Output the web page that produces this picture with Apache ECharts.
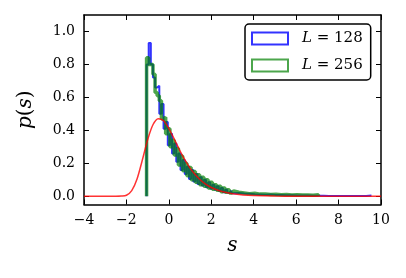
<!DOCTYPE html>
<html>
<head>
<meta charset="utf-8">
<script src="https://cdn.jsdelivr.net/npm/echarts@6/dist/echarts.min.js"></script>
<style>html,body{margin:0;padding:0;background:#fff}#c{width:406px;height:278px}</style>
</head>
<body>
<div id="c"></div>
<script>
// ---- data ----
const sizes = ['128', '256'];
const xTicks = [-4, -2, 0, 2, 4, 6, 8, 10];
const yTicks = [0.0, 0.2, 0.4, 0.6, 0.8, 1.0];
// histogram bins: fine bins from -1.05 (width 0.1), then tail bins (width 0.25)
const fineStart = -1.05;
const fineWidth = 0.1;
const tailWidth = 0.25;
const blueFine = [0.80,0.93,0.80,0.72,0.66,0.67,0.50,0.56,0.41,0.45,
                  0.31,0.38,0.26,0.32,0.21,0.26,0.16,0.22,0.135,0.18,
                  0.105,0.16,0.09,0.135,0.075,0.115,0.065,0.10,0.055,0.085,
                  0.045,0.07,0.04,0.06,0.032,0.05,0.025,0.04,0.022,0.033,0.018];
const blueTail = [0.02,0.017,0.015,0.012,0.011,0.009,0.010,0.008,0.007,0.006,
                  0.006,0.005,0.004,0.004,0.003,0.003,0.003,0.002,0.002,0.002,
                  0.002,0.001,0.002,0.001,0.001,0.004];
const greenFine = [0.84,0.80,0.80,0.74,0.63,0.61,0.58,0.47,0.48,0.38,
                   0.41,0.30,0.34,0.25,0.29,0.19,0.245,0.155,0.20,0.125,
                   0.175,0.10,0.15,0.085,0.13,0.07,0.115,0.06,0.10,0.05,
                   0.085,0.042,0.07,0.036,0.06,0.028,0.05,0.024,0.04,0.02,0.032];
const greenTail = [0.024,0.02,0.016,0.018,0.013,0.014,0.011,0.012,0.009,0.011,
                   0.008,0.009,0.007,0.008,0.006,0.009];
// red reference curve
const redX = [-4,-2.5,-2.25,-2.0,-1.75,-1.5,-1.25,-1.0,-0.75,-0.5,-0.25,0,0.25,0.5,0.75,1.0,1.25,1.5,1.75,2.0,2.5,3.0,3.5,4,5,6,7,10];
const redY = [0,0,0.001,0.006,0.034,0.105,0.220,0.343,0.434,0.471,0.458,0.411,0.348,0.282,0.222,0.171,0.130,0.097,0.072,0.053,0.0285,0.0152,0.008,0.0043,0.0012,0.0003,0.0001,0];

// ---- build step outlines ----
function stepPoints(fine, tail) {
  const edges = [], vals = [];
  for (let i = 0; i < fine.length; i++) { edges.push(fineStart + i * fineWidth); vals.push(fine[i]); }
  const tailStart = fineStart + fine.length * fineWidth;
  for (let i = 0; i < tail.length; i++) { edges.push(tailStart + i * tailWidth); vals.push(tail[i]); }
  edges.push(tailStart + tail.length * tailWidth);
  const pts = [[edges[0], 0]];
  for (let i = 0; i < vals.length; i++) {
    pts.push([edges[i], vals[i]]);
    pts.push([edges[i + 1], vals[i]]);
  }
  pts.push([edges[edges.length - 1], 0]);
  return pts;
}
const bluePts = stepPoints(blueFine, blueTail);
const greenPts = stepPoints(greenFine, greenTail);
const redPts = redX.map((x, i) => [x, redY[i]]);

const BLUE = 'rgba(0,0,255,0.8)';
const GREEN = 'rgba(0,128,0,0.7)';
const RED = 'rgba(255,0,0,0.8)';
const FONT = 'DejaVu Serif';

const names = sizes.map(s => 'L = ' + s);
const chart = echarts.init(document.getElementById('c'), null, {renderer: 'canvas'});
const axisCommon = {
  type: 'value', min: -4, max: 10,
  axisLine: {show: true, onZero: false, lineStyle: {color: '#000', width: 1.5}},
  axisTick: {show: true, inside: true, length: 5, lineStyle: {color: '#000', width: 1}, customValues: xTicks},
  splitLine: {show: false}
};
const yCommon = {
  type: 'value', min: -0.05, max: 1.1,
  axisLine: {show: true, onZero: false, lineStyle: {color: '#000', width: 1.5}},
  axisTick: {show: true, inside: true, length: 5, lineStyle: {color: '#000', width: 1}, customValues: yTicks},
  splitLine: {show: false}
};
chart.setOption({
  animation: false,
  backgroundColor: '#fff',
  grid: {left: 84, right: 25, top: 15, bottom: 73.5, containLabel: false, outerBoundsMode: 'none'},
  xAxis: [
    Object.assign({}, axisCommon, {
      position: 'bottom',
      axisLabel: {show: true, customValues: xTicks, margin: 9, fontFamily: FONT, fontSize: 14, color: '#000',
        formatter: v => (v < 0 ? '\u2212' + Math.abs(v) : String(v))},
      name: 's', nameLocation: 'middle', nameGap: 31,
      nameTextStyle: {fontFamily: FONT, fontStyle: 'italic', fontSize: 20, color: '#000'}
    }),
    Object.assign({}, axisCommon, {position: 'top', axisLabel: {show: false}})
  ],
  yAxis: [
    Object.assign({}, yCommon, {
      position: 'left',
      axisLabel: {show: true, customValues: yTicks, margin: 9, fontFamily: FONT, fontSize: 14, color: '#000',
        formatter: v => v.toFixed(1)},
      name: '{i|p}{r|(}{i|s}{r|)}', nameLocation: 'middle', nameGap: 48, nameRotate: 90,
      nameTextStyle: {fontSize: 20, color: '#000',
        rich: {i: {fontFamily: FONT, fontStyle: 'italic', fontSize: 20}, r: {fontFamily: FONT, fontSize: 20}}}
    }),
    Object.assign({}, yCommon, {position: 'right', axisLabel: {show: false}})
  ],
  legend: {
    left: 245, top: 24, orient: 'vertical',
    padding: [7, 8, 7, 6], itemGap: 12, itemWidth: 36, itemHeight: 12,
    borderColor: '#000', borderWidth: 1.5, borderRadius: 4, backgroundColor: '#fff',
    data: [
      {name: names[0], icon: 'rect', itemStyle: {color: '#fff', borderColor: BLUE, borderWidth: 2}},
      {name: names[1], icon: 'rect', itemStyle: {color: '#fff', borderColor: GREEN, borderWidth: 2}}
    ],
    formatter: n => '{i|L}{r| = ' + n.split('= ')[1] + '}',
    textStyle: {padding: [0, 0, 0, 9], color: '#000',
      rich: {i: {fontFamily: FONT, fontStyle: 'italic', fontSize: 15}, r: {fontFamily: FONT, fontSize: 15}}}
  },
  series: [
    {name: names[0], type: 'line', data: bluePts, showSymbol: false, symbol: 'none',
     lineStyle: {color: BLUE, width: 2}, itemStyle: {color: BLUE}, z: 2},
    {name: names[1], type: 'line', data: greenPts, showSymbol: false, symbol: 'none',
     lineStyle: {color: GREEN, width: 3.5}, itemStyle: {color: GREEN}, z: 3},
    {name: 'ref', type: 'line', data: redPts, showSymbol: false, symbol: 'none', smooth: 0.3,
     lineStyle: {color: RED, width: 1.5}, z: 4}
  ]
});
</script>
</body>
</html>
